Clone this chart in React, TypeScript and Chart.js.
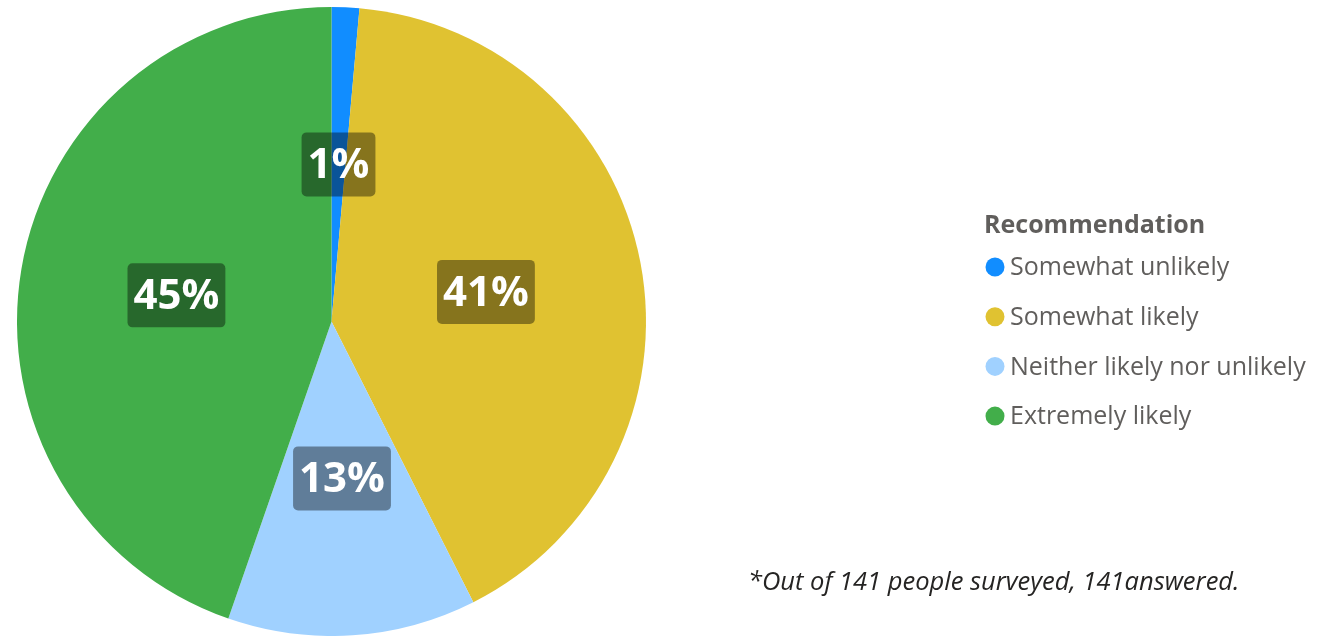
import React, { useEffect, useRef } from "react";
import { Chart, registerables } from "chart.js";

Chart.register(...registerables);

const categories = ["Somewhat unlikely", "Somewhat likely", "Neither likely nor unlikely", "Extremely likely"];
const counts = [2, 58, 18, 63];
const colors = ["#118DFF", "#E0C231", "#A0D1FF", "#42AE4A"];
const legendTitle = "Recommendation";
const footnote = "*Out of 141 people surveyed, 141answered.";

const FONT = "'Open Sans', 'Noto Sans', sans-serif";

const labelPlugin = {
  id: "labelBoxes",
  afterDatasetsDraw(chart: any) {
    const ctx = chart.ctx;
    const meta = chart.getDatasetMeta(0);
    const data = chart.data.datasets[0].data as number[];
    const total = data.reduce((a, b) => a + b, 0);
    ctx.save();
    ctx.font = `bold 42px ${FONT}`;
    ctx.textAlign = "center";
    ctx.textBaseline = "middle";
    meta.data.forEach((arc: any, i: number) => {
      const p = arc.getCenterPoint();
      const txt = Math.round((data[i] / total) * 100) + "%";
      const w = ctx.measureText(txt).width + 12;
      const h = 64;
      ctx.fillStyle = "rgba(0,0,0,0.4)";
      ctx.beginPath();
      (ctx as any).roundRect(p.x - w / 2, p.y - h / 2, w, h, 5);
      ctx.fill();
      ctx.fillStyle = "#FFFFFF";
      ctx.fillText(txt, p.x, p.y + 2);
    });
    ctx.restore();
  },
};

const legendPlugin = {
  id: "sideLegend",
  afterDraw(chart: any) {
    const ctx = chart.ctx;
    const labels = chart.data.labels as string[];
    const bg = chart.data.datasets[0].backgroundColor as string[];
    ctx.save();
    ctx.textAlign = "left";
    ctx.textBaseline = "middle";
    ctx.fillStyle = "#605E5C";
    ctx.font = `bold 25px ${FONT}`;
    ctx.fillText(legendTitle, 984, 226);
    ctx.font = `25px ${FONT}`;
    labels.forEach((lab, i) => {
      const y = 267 + i * 49.7;
      ctx.fillStyle = bg[i];
      ctx.beginPath();
      ctx.arc(995, y, 9.5, 0, Math.PI * 2);
      ctx.fill();
      ctx.fillStyle = "#605E5C";
      ctx.fillText(lab, 1010, y + 1);
    });
    ctx.fillStyle = "#252423";
    ctx.font = `italic 25.5px ${FONT}`;
    ctx.fillText(footnote, 748, 583);
    ctx.restore();
  },
};

export default function App() {
  const ref = useRef<HTMLCanvasElement>(null);
  useEffect(() => {
    if (!ref.current) return;
    const chart = new Chart(ref.current, {
      type: "pie",
      data: {
        labels: categories,
        datasets: [
          {
            data: counts,
            backgroundColor: colors,
            borderWidth: 0,
          },
        ],
      },
      options: {
        animation: false,
        responsive: false,
        layout: { padding: { left: 17, top: 7, right: 672, bottom: 0 } },
        plugins: {
          legend: { display: false },
          tooltip: { enabled: false },
        },
      },
      plugins: [labelPlugin, legendPlugin],
    });
    return () => chart.destroy();
  }, []);
  return (
    <div style={{ position: "absolute", left: 0, top: 0, width: 1318, height: 636, background: "#fff" }}>
      <canvas ref={ref} width={1318} height={636} style={{ display: "block" }} />
    </div>
  );
}
